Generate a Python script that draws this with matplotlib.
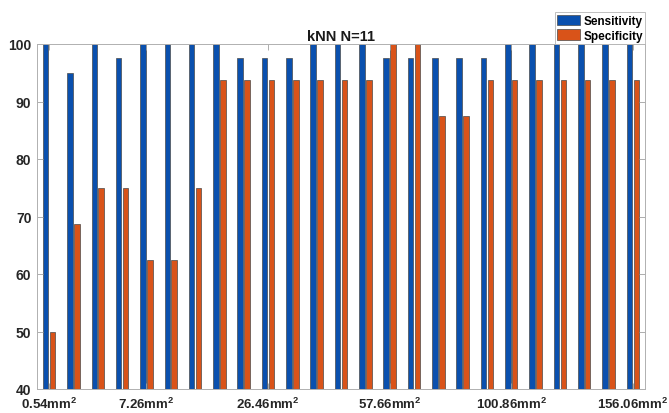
import matplotlib
matplotlib.use("Agg")
import matplotlib.pyplot as plt
import numpy as np

plt.rcParams['font.family'] = ['Liberation Sans', 'DejaVu Sans']
plt.rcParams['mathtext.fontset'] = 'custom'
plt.rcParams['mathtext.rm'] = 'Liberation Sans:bold'
plt.rcParams['mathtext.bf'] = 'Liberation Sans:bold'

title = "kNN N=11"
series_names = ["Sensitivity", "Specificity"]
sensitivity = [100, 95, 100, 97.5, 100, 100, 100, 100, 97.5, 97.5, 97.5, 100, 100,
               100, 97.5, 97.5, 97.5, 97.5, 97.5, 100, 100, 100, 100, 100, 100]
specificity = [50, 68.75, 75, 75, 62.5, 62.5, 75, 93.75, 93.75, 93.75, 93.75, 93.75, 93.75,
               93.75, 100, 100, 87.5, 87.5, 93.75, 93.75, 93.75, 93.75, 93.75, 93.75, 93.75]
tick_groups = [1, 5, 10, 15, 20, 25]
tick_labels = ["0.54", "7.26", "26.46", "57.66", "100.86", "156.06"]
yticks = [40, 50, 60, 70, 80, 90, 100]

blue = '#0a50ae'
orange = '#d95319'

fig = plt.figure(figsize=(6.69, 4.14), dpi=100)
ax = fig.add_axes([37/669, 1-390/414, (645-37)/669, (390-45)/414])

x = np.arange(1, len(sensitivity) + 1)
gw = min(0.8, 2 / (2 + 1.5))
w = gw / 2 * 0.8
ax.bar(x - gw/4, sensitivity, width=w, color=blue, edgecolor='#4a4a4a', linewidth=0.5,
       label=series_names[0])
ax.bar(x + gw/4, specificity, width=w, color=orange, edgecolor='#4a4a4a', linewidth=0.5,
       label=series_names[1])

ax.set_xlim(0.5, 25.5)
ax.set_ylim(40, 100)
ax.set_yticks(yticks)
ax.set_yticklabels([str(v) for v in yticks], fontsize=10, fontweight='bold', color='#262626')
ax.set_xticks(tick_groups)
ax.set_xticklabels([f"{t}mm$^{{2}}$" for t in tick_labels], fontsize=9.5,
                   fontweight='bold', color='#262626')
ax.tick_params(axis='both', direction='in', length=4, width=0.6, color='#a0a0a0',
               top=True, right=True)
ax.tick_params(axis='x', pad=5)
ax.tick_params(axis='y', pad=4)
for s in ax.spines.values():
    s.set_color('#b0b0b0')
    s.set_linewidth(0.7)

ax.set_title(title, fontsize=10.5, fontweight='bold', color='#1a1a1a', pad=3)

leg = ax.legend(loc='lower right', bbox_to_anchor=(1.0, 1.0), borderaxespad=0,
                prop={'size': 8.5, 'weight': 'bold'}, frameon=True, fancybox=False,
                handlelength=1.9, handleheight=1.0, handletextpad=0.3,
                borderpad=0.2, labelspacing=0.2)
leg.get_frame().set_edgecolor('#b0b0b0')
leg.get_frame().set_linewidth(0.7)

fig.savefig("out.png", dpi=100)
